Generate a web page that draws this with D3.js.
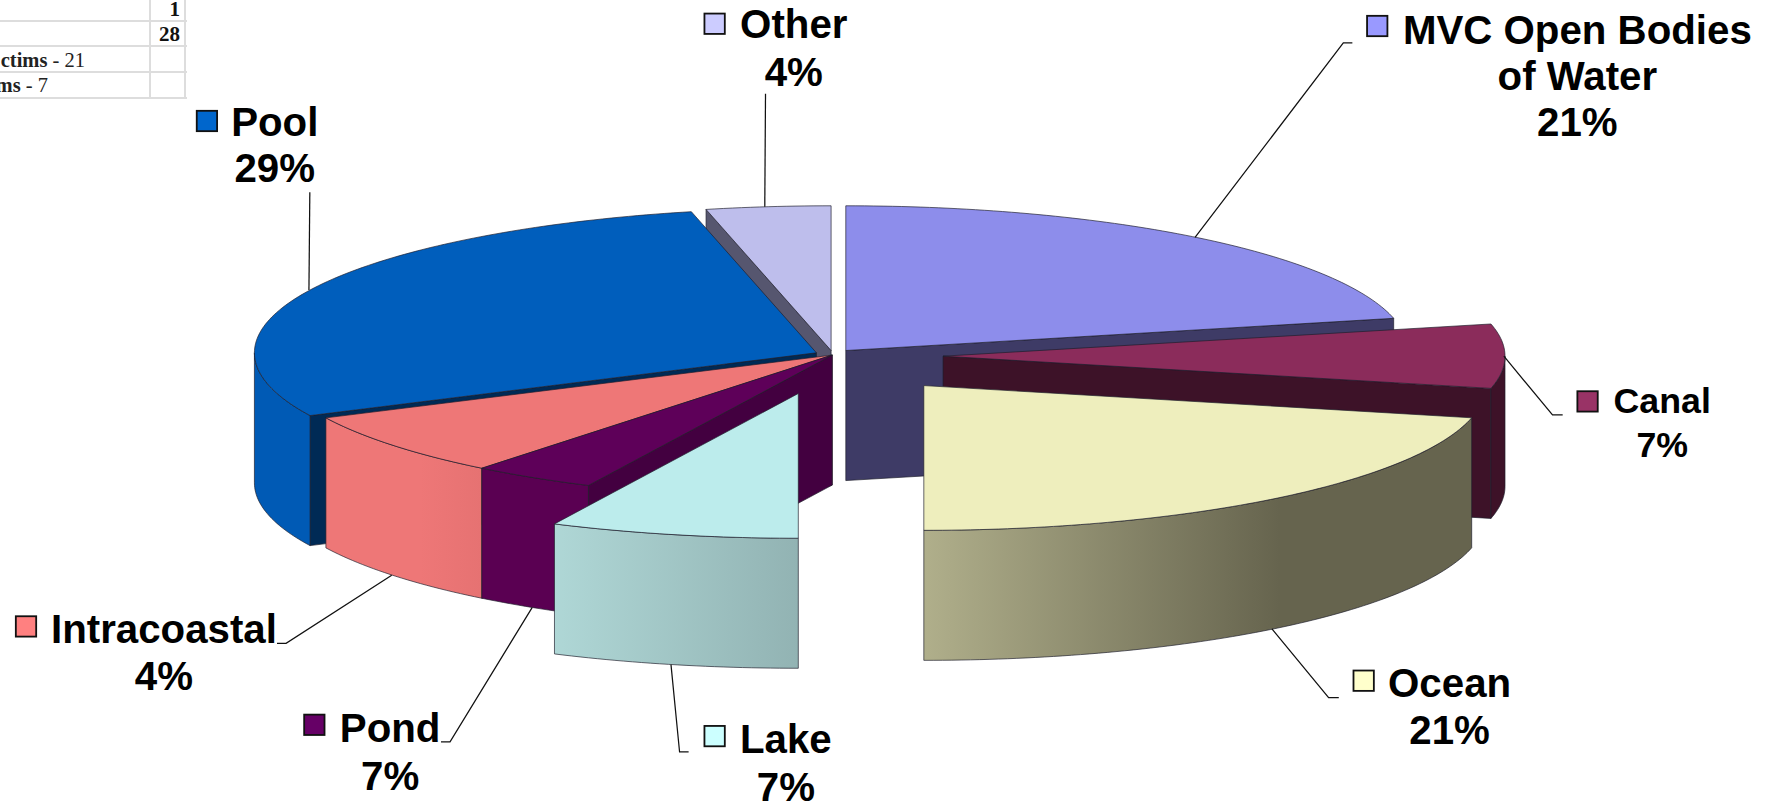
<!DOCTYPE html>
<html>
<head>
<meta charset="utf-8">
<script src="https://cdn.jsdelivr.net/npm/d3@7/dist/d3.min.js"></script>
<style>html,body{margin:0;padding:0;background:#fff;overflow:hidden}svg{display:block}</style>
</head>
<body>
<svg id="chart" width="1773" height="803"></svg>
<script>
// DATA: victim counts as drawn, clockwise from 12 o'clock (total 28)
const categories = ["MVC Open Bodies of Water", "Canal", "Ocean", "Lake", "Pond", "Intracoastal", "Pool", "Other"];
const drawnCounts = [6, 2, 6, 2, 1, 2, 8, 1];
// Percent text as printed on the labels
const printedPercents = ["21%", "7%", "21%", "7%", "7%", "4%", "29%", "4%"];
const labelLines = [["MVC Open Bodies", "of Water"], ["Canal"], ["Ocean"], ["Lake"], ["Pond"], ["Intracoastal"], ["Pool"], ["Other"]];
const tableNumbers = ["1", "28"];
const tableNotes = [["ctims", " - 21"], ["ms", " - 7"]];

// STYLE
const legendColors = ["#9999ff", "#993366", "#ffffcc", "#ccffff", "#660066", "#ff8080", "#0066cc", "#ccccff"];
const topColors = ["#8d8deb", "#8b2c5b", "#eeeebd", "#bcecec", "#5e0059", "#ee7777", "#005ebc", "#bebeec"];
const sideStops = [
  [["0", "#8d8deb"]],
  [["0", "#3d1228"]],
  [["0", "#b0af8b"], ["0.65", "#66644e"], ["1", "#66644e"]],
  [["0", "#afd7d6"], ["1", "#92b3b3"]],
  [["0", "#5a0052"]],
  [["0", "#ee7777"], ["0.6", "#ee7777"], ["1", "#e67272"]],
  [["0", "#005ab5"]],
  [["0", "#bebeec"]]
];
const cutColors = ["#3e3b66", "#3d1228", "#66644e", "#92b3b3", "#430040", "#c86060", "#002a55", "#56566f"];

// LAYOUT (drawing units, scaled to the window below)
const unit = 1773 / 1568;
const rx = 497, ry = 128, depth = 115;
const apexX = [748, 834, 817, 706, 736, 736, 722, 735];
const apexY = [310, 315, 341, 348, 314, 314, 312, 310];
const paintOrder = [7, 0, 1, 6, 5, 4, 3, 2];
const swatchX = [1209, 1395, 1197, 623, 269, 14, 174, 623];
const swatchY = [14, 346, 593, 642, 632, 545, 98, 12];
const swatchSize = 18;
const labelX = [1395, 1470, 1282, 695, 345, 145, 243, 702];
const labelBase = [39, 365, 616, 666, 656, 569, 120, 34];
const labelSize = [35.6, 31.6, 35.6, 35.6, 35.6, 35.6, 35.6, 35.6];
const labelStep = [40.5, 39, 42, 42, 43, 41, 41, 42];
const leaderNudge = [-1, -1, -2, -2, -1, -1, -1, -3];
const elbows = [
  [[1188, 38], [1196, 38]],
  [[1373, 367], [1382, 367]],
  [[1175, 617], [1184, 617]],
  [[601, 665], [609, 665]],
  [[398, 656], [390, 656]],
  [[253, 569], [245, 569]],
  [[274, 170]],
  [[677, 83]]
];

const svg = d3.select("#chart");
const pie = d3.pie().sort(null).startAngle(0).endAngle(2 * Math.PI)(drawnCounts);
const path = d3.line();
const defs = svg.append("defs");

// table fragment, top left
const table = svg.append("g");
const gridColor = "#dddddd";
[21, 46, 72, 98].forEach(y => table.append("line").attr("x1", 0).attr("x2", 187).attr("y1", y).attr("y2", y).attr("stroke", gridColor).attr("stroke-width", 2));
[150, 185].forEach(x => table.append("line").attr("x1", x).attr("x2", x).attr("y1", 0).attr("y2", 98).attr("stroke", gridColor).attr("stroke-width", 2));
tableNumbers.forEach((t, i) => table.append("text").text(t)
  .attr("x", 180).attr("y", [16, 41][i]).attr("text-anchor", "end")
  .attr("font-family", "Liberation Serif").attr("font-weight", "bold").attr("font-size", 21).attr("fill", "#111"));
tableNotes.forEach((t, i) => {
  const el = table.append("text").attr("x", [85, 48][i]).attr("y", [67, 92][i]).attr("text-anchor", "end")
    .attr("font-family", "Liberation Serif").attr("font-size", 20.5).attr("fill", "#222").attr("xml:space", "preserve");
  el.append("tspan").text(t[0]).attr("font-weight", "bold");
  el.append("tspan").text(t[1]);
});

const root = svg.append("g").attr("transform", `scale(${unit})`);

function rim(i, a0, a1) {
  const n = Math.max(2, Math.ceil(Math.abs(a1 - a0) * 60));
  return d3.range(n + 1).map(k => {
    const a = a0 + (a1 - a0) * k / n;
    return [apexX[i] + rx * Math.sin(a), apexY[i] - ry * Math.cos(a)];
  });
}
const drop = pts => pts.map(p => [p[0], p[1] + depth]);
const edge = {stroke: "#1d1d2b", "stroke-width": 0.8, "stroke-opacity": 0.75, "stroke-linejoin": "round"};
function face(g, pts, fill) {
  const f = g.append("path").attr("d", path(pts) + "Z").attr("fill", fill);
  Object.entries(edge).forEach(([k, v]) => f.attr(k, v));
  return f;
}

paintOrder.forEach(i => {
  const s = pie[i], a0 = s.startAngle, a1 = s.endAngle;
  const g = root.append("g").attr("class", "slice");
  const apex = [apexX[i], apexY[i]];
  // flat cut faces turned toward the viewer
  if (a0 > Math.PI + 1e-6) {
    const e = rim(i, a0, a0)[0];
    face(g, [apex, e, [e[0], e[1] + depth], [apex[0], apex[1] + depth]], cutColors[i]);
  }
  if (a1 < Math.PI - 1e-6) {
    const e = rim(i, a1, a1)[0];
    face(g, [apex, e, [e[0], e[1] + depth], [apex[0], apex[1] + depth]], cutColors[i]);
  }
  // outer wall: only the front half of the rim
  const w0 = Math.max(a0, Math.PI / 2), w1 = Math.min(a1, 3 * Math.PI / 2);
  if (w1 > w0) {
    const upper = rim(i, w0, w1);
    const xs = d3.extent(upper, p => p[0]);
    const id = "wall" + i;
    const grad = defs.append("linearGradient").attr("id", id).attr("gradientUnits", "userSpaceOnUse")
      .attr("x1", xs[0]).attr("x2", xs[1]).attr("y1", 0).attr("y2", 0);
    sideStops[i].forEach(st => grad.append("stop").attr("offset", st[0]).attr("stop-color", st[1]));
    face(g, upper.concat(drop(upper).reverse()), `url(#${id})`);
  }
  // top
  face(g, [apex].concat(rim(i, a0, a1)), topColors[i]);
});

// leaders, from the slice's mid-angle on the rim
const leaders = root.append("g");
pie.forEach((s, i) => {
  const mid = (s.startAngle + s.endAngle) / 2;
  let start = rim(i, mid, mid)[0];
  if (Math.cos(mid) < 0) start = [start[0], start[1] + depth];
  start = [start[0] + leaderNudge[i], start[1]];
  leaders.append("path").attr("d", path([start].concat(elbows[i])))
    .attr("fill", "none").attr("stroke", "#111").attr("stroke-width", 1.1);
});

// labels
const labels = root.append("g").attr("font-family", "Liberation Sans, Arial, sans-serif").attr("font-weight", "bold");
categories.forEach((c, i) => {
  labels.append("rect").attr("x", swatchX[i]).attr("y", swatchY[i])
    .attr("width", swatchSize).attr("height", swatchSize)
    .attr("fill", legendColors[i]).attr("stroke", "#111").attr("stroke-width", 1.6);
  labelLines[i].concat([printedPercents[i]]).forEach((line, k) => {
    labels.append("text").text(line)
      .attr("x", labelX[i]).attr("y", labelBase[i] + k * labelStep[i])
      .attr("text-anchor", "middle").attr("font-size", labelSize[i]).attr("fill", "#000");
  });
});
</script>
</body>
</html>
